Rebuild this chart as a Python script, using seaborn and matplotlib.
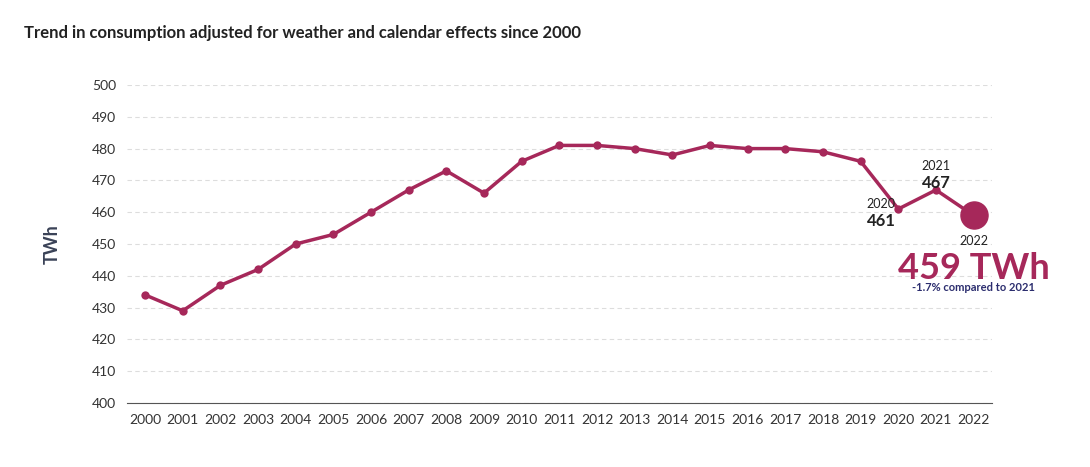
import matplotlib
matplotlib.use("Agg")
import matplotlib.pyplot as plt
import seaborn as sns
import pandas as pd

years = list(range(2000, 2023))
consumption = [434, 429, 437, 442, 450, 453, 460, 467, 473, 466, 476, 481, 481,
               480, 478, 481, 480, 480, 479, 476, 461, 467, 459]
yticks = list(range(400, 501, 10))

sns.set_style("white")
plt.rcParams['font.family'] = ['Lato', 'DejaVu Sans']

color = "#A6285A"
df = pd.DataFrame({"year": years, "twh": consumption})

fig = plt.figure(figsize=(10.9, 4.67), dpi=100)
ax = fig.add_axes([0.1165, 0.137, 0.794, 0.681])

sns.lineplot(data=df, x="year", y="twh", color=color, linewidth=2.5,
             marker="o", markersize=6, markeredgewidth=0, ax=ax)
ax.scatter([years[-1]], [consumption[-1]], s=380, color=color, zorder=5)

ax.set_xlim(1999.52, 2022.5)
ax.set_ylim(400, 500)
ax.set_xticks(years)
ax.set_yticks(yticks)
ax.tick_params(axis="both", labelsize=10, colors="#333333", length=0, pad=8)
ax.grid(axis="y", color="#dddddd", linestyle=(0, (4, 3)), linewidth=0.8)
for s in ["top", "right", "left"]:
    ax.spines[s].set_visible(False)
ax.spines["bottom"].set_color("#555555")
ax.set_xlabel("")
ax.set_ylabel("TWh", fontsize=13, fontweight="bold", color="#3a4257", labelpad=22)

# annotations
ax.text(2019.55, 462.5, "2020", ha="center", va="center", fontsize=9, color="#222222")
ax.text(2019.55, 457.3, "461", ha="center", va="center", fontsize=12, fontweight="bold", color="#222222")
ax.text(2021, 474.5, "2021", ha="center", va="center", fontsize=9, color="#222222")
ax.text(2021, 469.3, "467", ha="center", va="center", fontsize=12, fontweight="bold", color="#222222")
ax.text(2022, 451, "2022", ha="center", va="center", fontsize=9, color="#222222")
ax.text(2022, 442.3, "459 TWh", ha="center", va="center", fontsize=26, fontweight="bold", color=color)
ax.text(2022, 436.2, "-1.7% compared to 2021", ha="center", va="center", fontsize=8,
        fontweight="bold", color="#2b2d6e")

fig.text(0.022, 0.929, "Trend in consumption adjusted for weather and calendar effects since 2000",
         fontsize=12, fontweight="bold", color="#222222", va="center")

fig.savefig("out.png", dpi=100)
